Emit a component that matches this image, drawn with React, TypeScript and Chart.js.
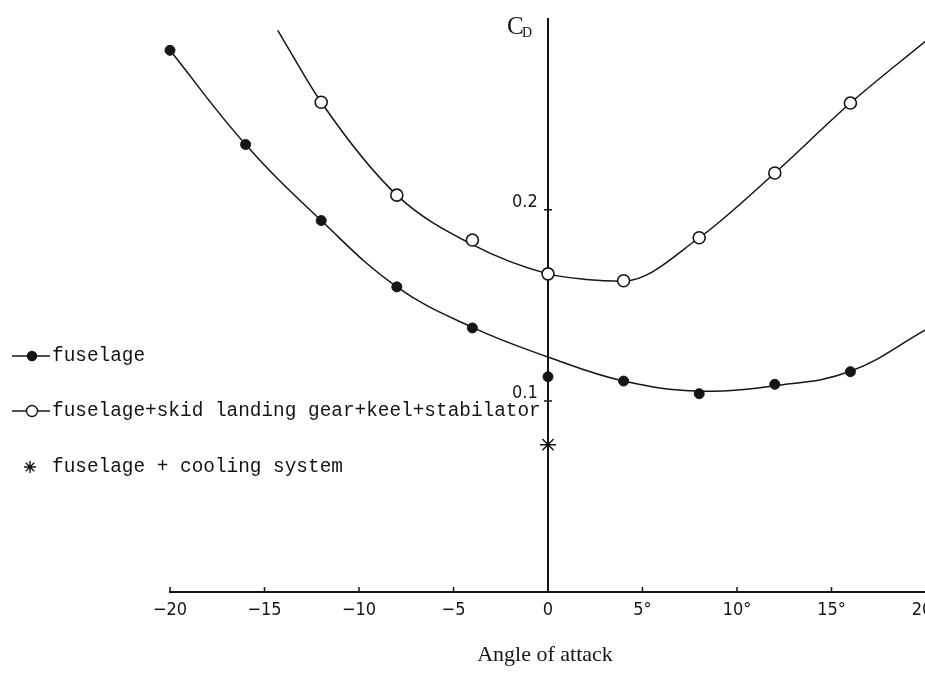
import React, { useEffect, useRef } from 'react';
import { Chart, registerables } from 'chart.js';

Chart.register(...registerables);

// ---- data ----
const angleTicks = [-20, -15, -10, -5, 0, 5, 10, 15, 20];
const cdTicks = [0.1, 0.2];

// fuselage (filled dots)
const fuselageAngles = [-20, -16, -12, -8, -4, 0, 4, 8, 12, 16];
const fuselageCd = [0.2835, 0.2342, 0.1944, 0.1597, 0.1382, 0.1127, 0.1104, 0.1038, 0.1087, 0.1153];
// faired curve through the fuselage data
const fuselageCurveAngles = [-20, -16, -12, -8, -4, 0, 4, 8, 12, 16, 20];
const fuselageCurveCd = [0.2835, 0.2342, 0.1944, 0.1597, 0.1385, 0.123, 0.1104, 0.1052, 0.108, 0.1155, 0.1373];

// fuselage + skid landing gear + keel + stabilator (open circles)
const fullAngles = [-12, -8, -4, 0, 4, 8, 12, 16];
const fullCd = [0.2563, 0.2077, 0.1842, 0.1665, 0.1629, 0.1854, 0.2193, 0.2559];
const fullCurveAngles = [-14.3, -12, -8, -4, 0, 2, 4, 8, 12, 16, 20];
const fullCurveCd = [0.294, 0.2563, 0.2077, 0.1818, 0.1665, 0.1636, 0.1627, 0.1854, 0.2193, 0.2559, 0.2885];

// fuselage + cooling system (asterisk)
const coolingAngles = [0];
const coolingCd = [0.0771];

const legendLabels = [
  'fuselage',
  'fuselage+skid landing gear+keel+stabilator',
  'fuselage + cooling system',
];
const xTitle = 'Angle of attack';
const yTitleMain = 'C';
const yTitleSub = 'D';

const INK = '#151515';

function pts(xs: number[], ys: number[]) {
  return xs.map((x, i) => ({ x, y: ys[i] }));
}

function drawStar(ctx: CanvasRenderingContext2D, x: number, y: number, r: number) {
  ctx.save();
  ctx.strokeStyle = INK;
  ctx.lineWidth = 1.4;
  ctx.beginPath();
  for (let k = 0; k < 4; k++) {
    const a = (Math.PI / 4) * k;
    ctx.moveTo(x - r * Math.cos(a), y - r * Math.sin(a));
    ctx.lineTo(x + r * Math.cos(a), y + r * Math.sin(a));
  }
  ctx.stroke();
  ctx.restore();
}

const decorPlugin = {
  id: 'decor',
  afterDraw(chart: any) {
    const ctx: CanvasRenderingContext2D = chart.ctx;
    const xs = chart.scales.x;
    const ys = chart.scales.y;
    const axisX = xs.getPixelForValue(0);
    const axisY = ys.getPixelForValue(0);
    ctx.save();
    ctx.strokeStyle = INK;
    ctx.lineWidth = 1.5;
    // small upward tick marks on the angle axis
    ctx.beginPath();
    angleTicks.forEach((v) => {
      const px = xs.getPixelForValue(v);
      ctx.moveTo(px, axisY);
      ctx.lineTo(px, axisY - 5);
    });
    // small tick marks across the Cd axis
    cdTicks.forEach((v) => {
      const py = ys.getPixelForValue(v);
      ctx.moveTo(axisX - 4, py);
      ctx.lineTo(axisX + 4, py);
    });
    ctx.stroke();

    // Cd title
    ctx.fillStyle = INK;
    ctx.textBaseline = 'middle';
    ctx.textAlign = 'left';
    ctx.font = '25px "Liberation Serif", serif';
    ctx.fillText(yTitleMain, axisX - 41, 27);
    ctx.font = '14px "Liberation Serif", serif';
    ctx.fillText(yTitleSub, axisX - 26, 33);

    // x title
    ctx.textAlign = 'center';
    ctx.font = '22px "Liberation Serif", serif';
    ctx.fillText(xTitle, 545, 655);

    // legend
    const rows = [356, 411, 467];
    ctx.textAlign = 'left';
    ctx.font = '19.4px "Liberation Mono", "DejaVu Sans Mono", monospace';
    legendLabels.forEach((label, i) => {
      const y = rows[i];
      if (i < 2) {
        ctx.beginPath();
        ctx.lineWidth = 1.3;
        ctx.moveTo(12, y);
        ctx.lineTo(50, y);
        ctx.stroke();
        ctx.beginPath();
        ctx.arc(32, y, i === 0 ? 4.5 : 5.5, 0, Math.PI * 2);
        ctx.fillStyle = i === 0 ? INK : '#ffffff';
        ctx.fill();
        ctx.lineWidth = 1.4;
        ctx.stroke();
      } else {
        drawStar(ctx, 30, y, 6);
      }
      ctx.fillStyle = INK;
      ctx.fillText(label, 52, y);
    });
    ctx.restore();
  },
};

export default function App() {
  const canvasRef = useRef<HTMLCanvasElement | null>(null);

  useEffect(() => {
    const canvas = canvasRef.current;
    if (!canvas) return;
    const chart = new Chart(canvas, {
      type: 'scatter',
      data: {
        datasets: [
          {
            label: legendLabels[0],
            data: pts(fuselageAngles, fuselageCd),
            showLine: false,
            clip: false,
            pointRadius: 5,
            pointBackgroundColor: INK,
            pointBorderColor: INK,
            pointBorderWidth: 1,
          },
          {
            label: legendLabels[1],
            data: pts(fullAngles, fullCd),
            showLine: false,
            pointRadius: 6,
            pointBackgroundColor: '#ffffff',
            pointBorderColor: INK,
            pointBorderWidth: 1.6,
          },
          {
            label: legendLabels[2],
            data: pts(coolingAngles, coolingCd),
            showLine: false,
            pointStyle: 'star',
            pointRadius: 8,
            pointBorderColor: INK,
            pointBorderWidth: 1.5,
          },
          {
            label: 'fuselage curve',
            data: pts(fuselageCurveAngles, fuselageCurveCd),
            showLine: true,
            pointRadius: 0,
            borderColor: INK,
            borderWidth: 1.5,
            tension: 0.4,
          },
          {
            label: 'full configuration curve',
            data: pts(fullCurveAngles, fullCurveCd),
            showLine: true,
            pointRadius: 0,
            borderColor: INK,
            borderWidth: 1.5,
            cubicInterpolationMode: 'monotone',
          },
        ],
      },
      options: {
        animation: false,
        responsive: false,
        devicePixelRatio: 1,
        layout: { padding: { left: 170, right: 14, top: 17, bottom: 0 } },
        plugins: {
          legend: { display: false },
          tooltip: { enabled: false },
          title: { display: false },
        },
        scales: {
          x: {
            type: 'linear',
            position: 'bottom',
            min: -20,
            max: 20,
            afterBuildTicks: (scale: any) => {
              scale.ticks = angleTicks.map((v) => ({ value: v }));
            },
            afterFit: (scale: any) => {
              scale.height = 97;
              scale.paddingLeft = 0;
              scale.paddingRight = 0;
            },
            grid: { display: false, drawTicks: false },
            border: { display: true, color: INK, width: 2 },
            ticks: {
              padding: 8,
              color: INK,
              font: { family: '"DejaVu Sans Condensed", "DejaVu Sans", sans-serif', size: 18 },
              callback: (v: any) => {
                const n = Number(v);
                if (n < 0) return '\u2212' + Math.abs(n);
                if (n === 0) return '0';
                return n + '\u00b0';
              },
            },
          },
          y: {
            type: 'linear',
            position: { x: 0 },
            min: 0,
            max: 0.3,
            afterBuildTicks: (scale: any) => {
              scale.ticks = cdTicks.map((v) => ({ value: v }));
            },
            grid: { display: false, drawTicks: false },
            border: { display: true, color: INK, width: 2 },
            ticks: {
              padding: 8,
              labelOffset: -8,
              color: INK,
              font: { family: '"DejaVu Sans Condensed", "DejaVu Sans", sans-serif', size: 18 },
              callback: (v: any) => String(Number(v).toFixed(1)) + '  ',
            },
          },
        },
      },
      plugins: [decorPlugin],
    } as any);
    return () => chart.destroy();
  }, []);

  return (
    <div style={{ position: 'absolute', left: 0, top: 0, width: 925, height: 689, overflow: 'hidden', background: '#fff' }}>
      <canvas ref={canvasRef} width={940} height={689} style={{ width: 940, height: 689, display: 'block' }} />
    </div>
  );
}
